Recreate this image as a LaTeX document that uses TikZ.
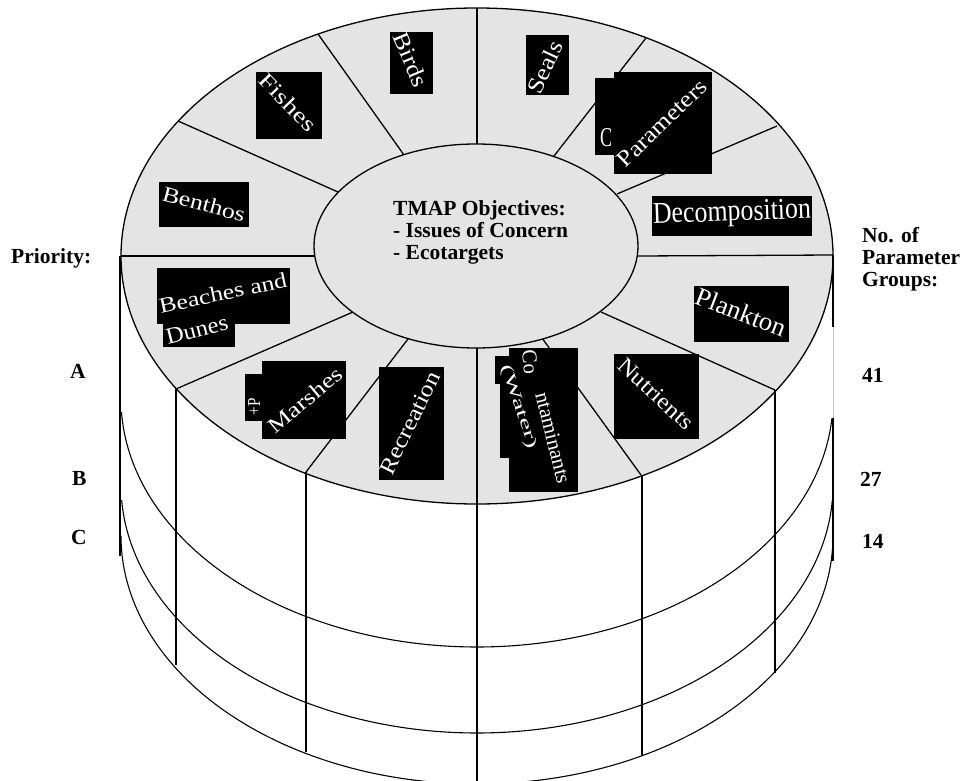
\documentclass[tikz,border=0pt]{standalone}
\usepackage{graphicx}
\usepackage{fontspec}
\setmainfont{Liberation Serif}
\definecolor{topgray}{HTML}{E4E4E4}
\definecolor{fadeline}{HTML}{C8C8C8}
\newcommand{\lab}[3]{\resizebox{#1pt}{#2pt}{#3}}
\tikzset{
  frame/.style={draw=black,line width=1.3pt},
  thinframe/.style={draw=black,line width=1.1pt},
  blackbox/.style={fill=black,draw=none},
  chip/.style={text=white,inner sep=0pt,font=\fontsize{18pt}{18pt}\selectfont},
  caption/.style={inner sep=0pt,anchor=base west,font=\bfseries\fontsize{21.5pt}{22pt}\selectfont},
  block/.style={inner sep=0pt,anchor=north west,align=left,font=\bfseries\fontsize{21.5pt}{22pt}\selectfont}
}
\begin{document}
\begin{tikzpicture}[x=1pt,y=-1pt]
\path[use as bounding box,fill=white] (0,0) rectangle (963,781);
% cylinder top
\draw[frame,fill=topgray] (477,256) ellipse [x radius=356pt,y radius=248pt];
% spokes
\foreach \a/\b/\c/\d in {477/144/477/8, 404/155/318/34, 338/192/178/121, 315/256/121/256,
  353/312/176/389, 408/339/306/472, 477/348/477/504, 542/338/641/475, 601/312/775/390,
  638/256/833/255, 617/194/777/126, 554/156/646/38}
  \draw[frame] (\a,\b) -- (\c,\d);
\draw[frame,fill=topgray] (476,246) ellipse [x radius=162pt,y radius=102pt];
% lower rings
\draw[thinframe] plot[smooth,domain=183:355.5,samples=120] ({477+356*cos(\x)},{399-248*sin(\x)});
\draw[thinframe] plot[smooth,domain=183.5:356.5,samples=120] ({477+356*cos(\x)},{485-248*sin(\x)});
\draw[thinframe] plot[smooth,domain=180:360,samples=120] ({477+356*cos(\x)},{536-248*sin(\x)});
% verticals
\foreach \a/\b/\c in {176/389/665, 306/472/752, 477/504/781, 642/475/755, 775/390/673}
  \draw[frame] (\a,\b) -- (\a,\c);
\draw[draw=black,line width=1.6pt] (120,256) -- (120,556);
\draw[draw=black,line width=1.6pt] (833,255) -- (833,327);
\draw[draw=fadeline,line width=1pt] (833,327) -- (833,418);
\draw[draw=black,line width=1.6pt] (833,418) -- (833,561);
% black backgrounds
\foreach \a/\b/\c/\d in {159/182/249/227, 256/72/322/139, 390/32/433/94, 526/35/569/95,
  595/78/614/155, 614/72/712/174, 652/196/812/236, 157/268/290/324, 163/324/235/347,
  245/374/262/421, 262/361/346/439, 379/367/444/480, 694/286/789/342, 614/354/699/439,
  495/356/509/384, 500/384/509/458, 509/348/578/492}
  \fill[blackbox] (\a,\b) rectangle (\c,\d);
% white labels
\node[chip,rotate=-15] (benthos) at (204,204) {\lab{85}{15}{Benthos}};
\node[chip,rotate=-46] (fishes) at (288,102) {\lab{72}{15}{Fishes}};
\node[chip,rotate=-67] (birds) at (411,60) {\lab{57}{16}{Birds}};
\node[chip,rotate=65] (seals) at (545,67) {\lab{55}{16}{Seals}};
\node[chip] (cfrag) at (606,138) {\lab{12}{18}{C}};
\node[chip,rotate=44] (parameters) at (662,123) {\lab{115}{15}{Parameters}};
\node[chip,rotate=2] (decomposition) at (732,214) {\lab{158}{20}{Decomposition}};
\node[chip,rotate=-21] (plankton) at (741,312) {\lab{95}{18}{Plankton}};
\node[chip,rotate=-43] (nutrients) at (656,394) {\lab{94}{15}{Nutrients}};
\node[chip,rotate=12] (beaches) at (223,293) {\lab{130}{15}{Beaches and}};
\node[chip,rotate=14] (dunes) at (197,330) {\lab{63}{15}{Dunes}};
\node[chip,rotate=40] (marshes) at (305,400) {\lab{90}{15}{Marshes}};
\node[chip,rotate=90] (plusfrag) at (254,407) {\lab{17}{12}{+P}};
\node[chip,rotate=64] (recreation) at (410,423) {\lab{111}{15}{Recreation}};
\node[chip,rotate=-72] (water) at (519,407) {\lab{88}{11}{(Water)}};
\node[chip,rotate=-85] (cofrag) at (530,362) {\lab{24}{14}{Co}};
\node[chip,rotate=-76] (contam) at (553,438) {\lab{93}{14}{ntaminants}};
% captions
\node[block] (centre) at (393,200) {TMAP Objectives:\\- Issues of Concern\\- Ecotargets};
\node[caption] (priority) at (11,263) {Priority:};
\node[caption] (pa) at (70,378) {A};
\node[caption] (pb) at (72,485) {B};
\node[caption] (pc) at (71,544) {C};
\node[block] (groups) at (862,227) {No. of\\Parameter\\Groups:};
\node[caption] (n41) at (862,382) {41};
\node[caption] (n27) at (860,486) {27};
\node[caption] (n14) at (862,548) {14};
\end{tikzpicture}
\end{document}
